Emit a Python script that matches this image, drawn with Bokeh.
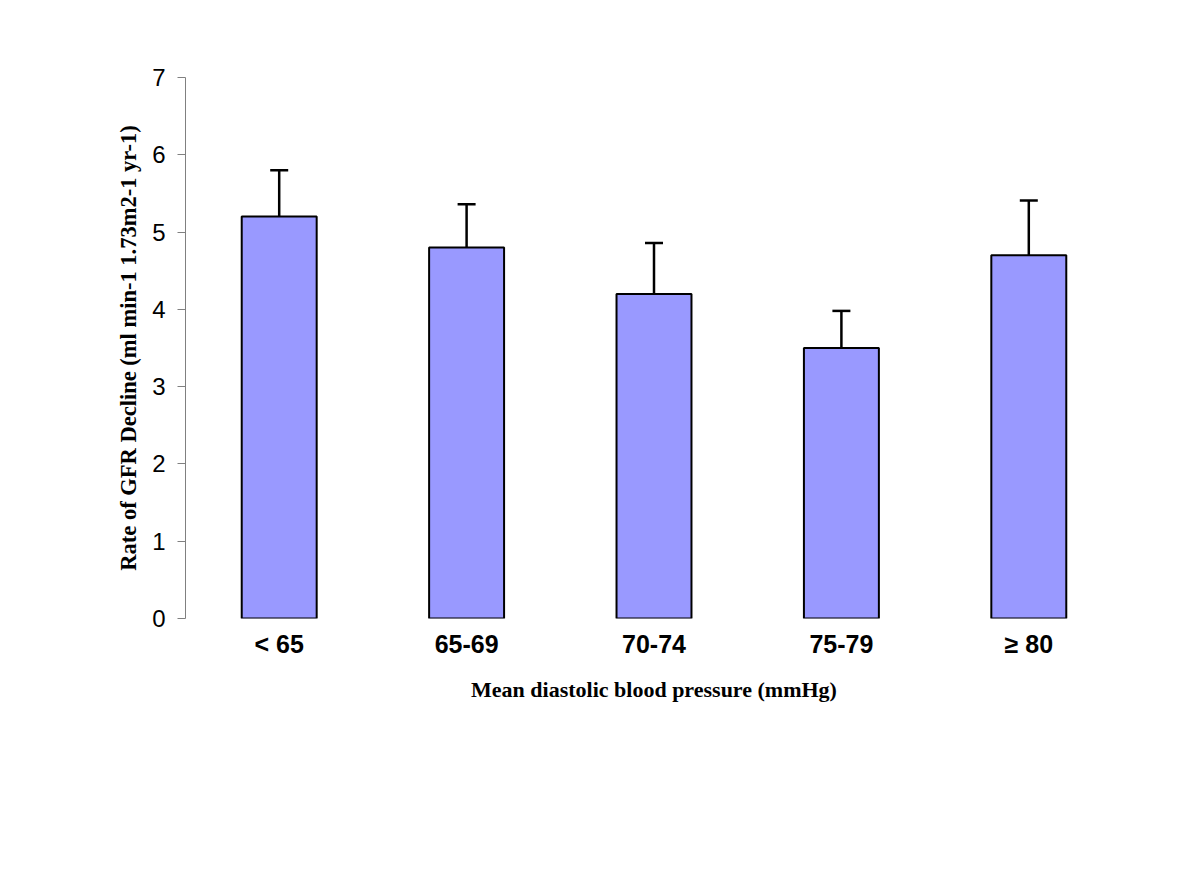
from bokeh.plotting import figure
from bokeh.models import ColumnDataSource, Whisker, FixedTicker, Range1d
from bokeh.embed import file_html
from bokeh.resources import INLINE

categories = ["< 65", "65-69", "70-74", "75-79", "\u2265 80"]
values = [5.2, 4.8, 4.2, 3.5, 4.7]
errors = [0.60, 0.56, 0.66, 0.48, 0.71]
y_ticks = [0, 1, 2, 3, 4, 5, 6, 7]

upper = [v + e for v, e in zip(values, errors)]
src = ColumnDataSource(dict(cat=categories, val=values, upper=upper, lower=values))

p = figure(x_range=categories, y_range=Range1d(0, 7), width=1184, height=875,
           output_backend="svg", toolbar_location=None,
           min_border_left=185, min_border_top=77, min_border_right=62, min_border_bottom=257)
p.outline_line_color = None
p.xgrid.grid_line_color = None
p.ygrid.grid_line_color = None
p.background_fill_color = "white"

w = Whisker(base="cat", upper="upper", lower="lower", source=src,
            line_color="black", line_width=2.5, level="underlay")
w.upper_head.size = 18
w.upper_head.line_width = 2.5
w.lower_head.line_alpha = 0
w.lower_head.size = 0
p.add_layout(w)

p.vbar(x="cat", top="val", width=0.4, source=src, fill_color="#9999FF",
       line_color="black", line_width=2)

p.yaxis.ticker = FixedTicker(ticks=y_ticks)
p.yaxis.axis_line_color = "#808080"
p.yaxis.major_tick_line_color = "#808080"
p.yaxis.major_tick_out = 8
p.yaxis.major_tick_in = 0
p.yaxis.minor_tick_line_color = None
p.yaxis.major_label_text_font = "Liberation Sans"
p.yaxis.major_label_text_font_size = "24px"
p.yaxis.major_label_text_color = "black"
p.yaxis.major_label_standoff = 12
p.yaxis.axis_label = "Rate of GFR Decline (ml min-1 1.73m2-1 yr-1)"
p.yaxis.axis_label_text_font = "Liberation Serif"
p.yaxis.axis_label_text_font_style = "bold"
p.yaxis.axis_label_text_font_size = "22.5px"
p.yaxis.axis_label_text_color = "black"
p.yaxis.axis_label_standoff = 8

p.xaxis.axis_line_color = None
p.xaxis.major_tick_line_color = None
p.xaxis.minor_tick_line_color = None
p.xaxis.major_label_text_font = "Liberation Sans"
p.xaxis.major_label_text_font_style = "bold"
p.xaxis.major_label_text_font_size = "25px"
p.xaxis.major_label_text_color = "black"
p.xaxis.major_label_standoff = 5
p.xaxis.axis_label = "Mean diastolic blood pressure (mmHg)"
p.xaxis.axis_label_text_font = "Liberation Serif"
p.xaxis.axis_label_text_font_style = "bold"
p.xaxis.axis_label_text_font_size = "22px"
p.xaxis.axis_label_text_color = "black"
p.xaxis.axis_label_standoff = 16

open("out.html", "w").write(file_html(p, INLINE))
